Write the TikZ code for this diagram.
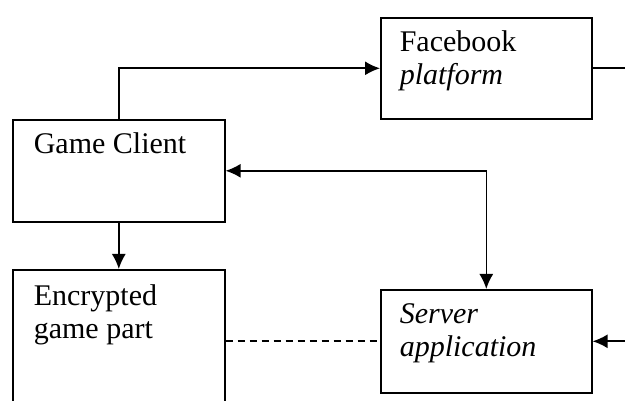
\documentclass[tikz,border=0pt]{standalone}
\usepackage{fontspec}
\setmainfont{Liberation Serif}
\usetikzlibrary{positioning,arrows.meta}
\tikzset{>={Latex[length=15pt,width=14pt]}}
\tikzset{box/.style={draw,line width=1.6pt,rectangle,anchor=north west,
    minimum width=212pt,inner sep=0},
  lbl/.style={anchor=base west,inner sep=0,align=left,
    font=\fontsize{30pt}{33pt}\selectfont}}

\begin{document}
\begin{tikzpicture}[x=1pt,y=-1pt,line width=1.6pt]
    \clip (0,0) rectangle (625,401);
    \node[box,minimum height=102pt] (client) at (12,119) {};
    \node[box,minimum height=101pt,minimum width=211pt] (fb) at (380,17) {};
    \node[box,minimum height=170pt] (enc) at (12,269) {};
    \node[box,minimum height=103pt,minimum width=211pt] (server) at (380,289) {};
    \node[lbl] (clienttxt) at ([xshift=21pt,yshift=-35pt]client.north west) {Game Client};
    \node[lbl] (fbtxt) at ([xshift=19pt,yshift=-68pt]fb.north west) {Facebook\\\textit{platform}};
    \node[lbl] (enctxt) at ([xshift=21pt,yshift=-70pt]enc.north west) {Encrypted\\game part};
    \node[lbl] (servertxt) at ([xshift=19pt,yshift=-67pt]server.north west) {\textit{Server}\\\textit{application}};
    \coordinate[right=45pt of fb.east] (fbout);
    \coordinate[right=45pt of server.east] (serverin);
    \draw[->] (client.north) |- (fb.west);
    \draw (fb.east) -- (fbout);
    \draw[<->] (client.east) -| (server.north);
    \draw[->] (client.south) -- (enc.north);
    \draw[dash pattern=on 7pt off 5pt] (enc.east |- server.west) -- (server.west);
    \draw[->] (serverin) -- (server.east);
\end{tikzpicture}
\end{document}
